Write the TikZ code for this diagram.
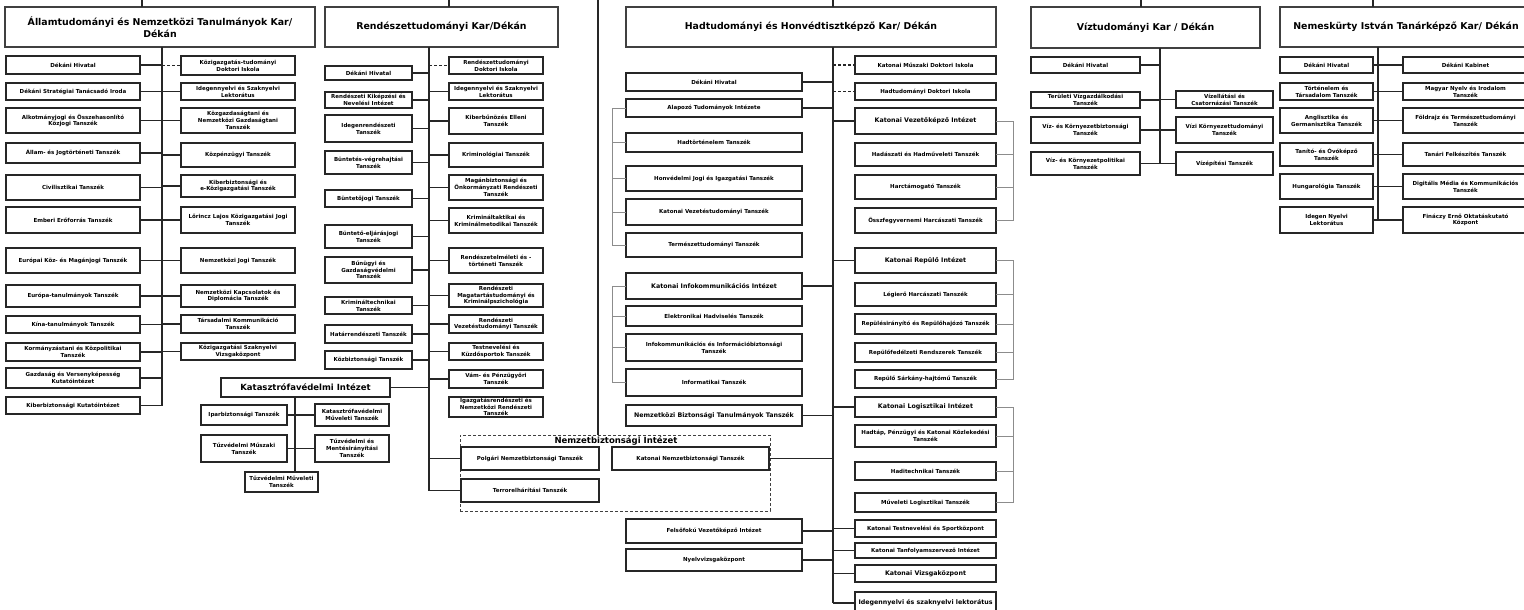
\documentclass[tikz,border=0pt]{standalone}
\usepackage{fontspec}
\setmainfont{DejaVu Sans}
\newcommand\fsS{\fontsize{5.5}{6.7}\selectfont\bfseries}
\newcommand\fsM{\fontsize{6.3}{7.5}\selectfont\bfseries}
\newcommand\fsH{\fontsize{9.4}{11.6}\selectfont\bfseries}
\newcommand\fsK{\fontsize{8.5}{9.6}\selectfont\bfseries}
\tikzset{
  bx/.style={draw=black!85,line width=1.25pt,fill=white,inner sep=1pt,outer sep=0pt,align=center,font=\fsS,rectangle},
  hdr/.style={bx,draw=black!75,line width=1.3pt,font=\fsH},
  mid/.style={font=\fsM},
  conn/.style={draw=black!85,line width=1.1pt},
  dconn/.style={conn,dashed,dash pattern=on 3pt off 2pt},
  brk/.style={draw=black!45,line width=0.6pt},
}
\newcommand\Bx[7][]{%
 \pgfmathsetmacro\bw{#5-#3}%
 \pgfmathsetmacro\bh{#6-#4}%
 \pgfmathsetmacro\bcx{(#3+#5)/2}%
 \pgfmathsetmacro\bcy{(#4+#6)/2}%
 \node[bx,minimum width=\bw pt,minimum height=\bh pt,#1] (#2) at (\bcx,\bcy) {#7};}
\newcommand\cl[2]{\draw[conn] (#1.east) -- (#1.east -| #2);}
\newcommand\cre[2]{\draw[conn] (#2 |- #1.west) -- (#1.west);}
\newcommand\dre[2]{\draw[dconn] (#2 |- #1.west) -- (#1.west);}
\begin{document}
\begin{tikzpicture}[x=1pt,y=-1pt]
\useasboundingbox (0,0) rectangle (1524,610);
\fill[white] (0,0) rectangle (1524,610);
\clip (0,0) rectangle (1524,610);
% trunk coordinates
\coordinate (at) at (162,47);
\coordinate (rt) at (429,47);
\coordinate (ht) at (833,47);
\coordinate (vt) at (1160,48);
\coordinate (mt) at (1378,47);
\coordinate (kt) at (295,397);
\coordinate (lb) at (612,0);
\coordinate (rb) at (1013,0);
\coordinate (t1) at (142,0);
\coordinate (t2) at (449,0);
\coordinate (t3) at (598,0);
\coordinate (t4) at (833,0);
\coordinate (t5) at (1141,0);
\coordinate (t6) at (1373,0);

% ===== Államtudományi =====
\Bx[hdr]{ah}{5}{7}{315}{47}{Államtudományi és Nemzetközi Tanulmányok Kar/\\Dékán}
\Bx{a1}{6}{56}{140}{74}{Dékáni Hivatal}
\Bx{a2}{6}{83}{140}{100}{Dékáni Stratégiai Tanácsadó Iroda}
\Bx{a3}{6}{108}{140}{133}{Alkotmányjogi és Összehasonlító\\Közjogi Tanszék}
\Bx{a4}{6}{143}{140}{163}{Állam- és Jogtörténeti Tanszék}
\Bx{a5}{6}{175}{140}{200}{Civilisztikai Tanszék}
\Bx{a6}{6}{207}{140}{233}{Emberi Erőforrás Tanszék}
\Bx{a7}{6}{248}{140}{273}{Európai Köz- és Magánjogi Tanszék}
\Bx{a8}{6}{285}{140}{307}{Európa-tanulmányok Tanszék}
\Bx{a9}{6}{316}{140}{333}{Kína-tanulmányok Tanszék}
\Bx{a10}{6}{343}{140}{361}{Kormányzástani és Közpolitikai\\Tanszék}
\Bx{a11}{6}{368}{140}{388}{Gazdaság és Versenyképesség\\Kutatóintézet}
\Bx{a12}{6}{397}{140}{414}{Kiberbiztonsági Kutatóintézet}
\Bx{b1}{181}{56}{295}{75}{Közigazgatás-tudományi\\Doktori Iskola}
\Bx{b2}{181}{83}{295}{100}{Idegennyelvi és Szaknyelvi\\Lektorátus}
\Bx{b3}{181}{108}{295}{133}{Közgazdaságtani és\\Nemzetközi Gazdaságtani\\Tanszék}
\Bx{b4}{181}{143}{295}{167}{Közpénzügyi Tanszék}
\Bx{b5}{181}{175}{295}{197}{Kiberbiztonsági és\\e-Közigazgatási Tanszék}
\Bx{b6}{181}{207}{295}{233}{Lőrincz Lajos Közigazgatási Jogi\\Tanszék}
\Bx{b7}{181}{248}{295}{273}{Nemzetközi Jogi Tanszék}
\Bx{b8}{181}{285}{295}{307}{Nemzetközi Kapcsolatok és\\Diplomácia Tanszék}
\Bx{b9}{181}{315}{295}{333}{Társadalmi Kommunikáció\\Tanszék}
\Bx{b10}{181}{343}{295}{360}{Közigazgatási Szaknyelvi\\Vizsgaközpont}
\draw[conn] (t1) -- (t1 |- ah.north);
\draw[conn] (ah.south -| at) -- (at |- a12.east);
\foreach \n in {a1,a2,a3,a4,a5,a6,a7,a8,a9,a10,a11,a12} {\cl{\n}{at}}
\dre{b1}{at}
\foreach \n in {b2,b3,b4,b5,b6,b7,b8,b9,b10} {\cre{\n}{at}}

% ===== Rendészettudományi =====
\Bx[hdr]{rh}{325}{7}{558}{47}{Rendészettudományi Kar/Dékán}
\Bx{r1}{325}{66}{412}{80}{Dékáni Hivatal}
\Bx{r2}{325}{92}{412}{108}{Rendészeti Kiképzési és\\Nevelési Intézet}
\Bx{r3}{325}{115}{412}{142}{Idegenrendészeti\\Tanszék}
\Bx{r4}{325}{151}{412}{174}{Büntetés-végrehajtási\\Tanszék}
\Bx{r5}{325}{190}{412}{207}{Büntetőjogi Tanszék}
\Bx{r6}{325}{225}{412}{248}{Büntető-eljárásjogi\\Tanszék}
\Bx{r7}{325}{257}{412}{283}{Bűnügyi és\\Gazdaságvédelmi\\Tanszék}
\Bx{r8}{325}{297}{412}{314}{Krimináltechnikai\\Tanszék}
\Bx{r9}{325}{325}{412}{343}{Határrendészeti Tanszék}
\Bx{r10}{325}{351}{412}{369}{Közbiztonsági Tanszék}
\Bx{s1}{449}{57}{543}{74}{Rendészettudományi\\Doktori Iskola}
\Bx{s2}{449}{83}{543}{100}{Idegennyelvi és Szaknyelvi\\Lektorátus}
\Bx{s3}{449}{108}{543}{134}{Kiberbűnözés Elleni\\Tanszék}
\Bx{s4}{449}{143}{543}{167}{Kriminológiai Tanszék}
\Bx{s5}{449}{175}{543}{200}{Magánbiztonsági és\\Önkormányzati Rendészeti\\Tanszék}
\Bx{s6}{449}{208}{543}{233}{Krimináltaktikai és\\Kriminálmetodikai Tanszék}
\Bx{s7}{449}{248}{543}{273}{Rendészetelméleti és -\\történeti Tanszék}
\Bx{s8}{449}{284}{543}{307}{Rendészeti\\Magatartástudományi és\\Kriminálpszichológia}
\Bx{s9}{449}{315}{543}{333}{Rendészeti\\Vezetéstudományi Tanszék}
\Bx{s10}{449}{343}{543}{360}{Testnevelési és\\Küzdősportok Tanszék}
\Bx{s11}{449}{370}{543}{388}{Vám- és Pénzügyőri\\Tanszék}
\Bx{s12}{449}{397}{543}{417}{Igazgatásrendészeti és\\Nemzetközi Rendészeti\\Tanszék}

% ===== Katasztrófavédelmi =====
\Bx[font=\fsK]{k0}{221}{378}{390}{397}{Katasztrófavédelmi Intézet}
\Bx{k1}{201}{405}{287}{425}{Iparbiztonsági Tanszék}
\Bx{k2}{315}{404}{389}{426}{Katasztrófavédelmi\\Műveleti Tanszék}
\Bx{k3}{201}{435}{287}{462}{Tűzvédelmi Műszaki\\Tanszék}
\Bx{k4}{315}{435}{389}{462}{Tűzvédelmi és\\Mentésirányítási\\Tanszék}
\Bx{k5}{245}{472}{318}{492}{Tűzvédelmi Műveleti\\Tanszék}

% ===== Nemzetbiztonsági =====
\node[draw=black!75,line width=1pt,dashed,dash pattern=on 3pt off 2pt,minimum width=310pt,minimum height=76pt,inner sep=0pt] (nb) at (615,473) {};
\node[font=\fsK,inner sep=0pt] (nbt) at (616,441) {Nemzetbiztonsági Intézet};
\Bx{n1}{461}{447}{599}{470}{Polgári Nemzetbiztonsági Tanszék}
\Bx{n2}{461}{479}{599}{502}{Terrorelhárítási Tanszék}
\Bx{n3}{612}{447}{769}{470}{Katonai Nemzetbiztonsági Tanszék}

\draw[conn] (t2) -- (t2 |- rh.north);
\draw[conn] (t3) -- (t3 |- nb.north);
\draw[conn] (rh.south -| rt) -- (rt |- n2.west);
\foreach \n in {r1,r2,r3,r4,r5,r6,r7,r8,r9,r10,k0} {\cl{\n}{rt}}
\dre{s1}{rt}
\foreach \n in {s2,s3,s4,s5,s6,s7,s8,s9,s10,s11,n1,n2} {\cre{\n}{rt}}
\draw[conn] (k0.south -| kt) -- (kt |- k5.north);
\cl{k1}{kt}\cl{k3}{kt}\cre{k2}{kt}\cre{k4}{kt}

% ===== Hadtudományi =====
\Bx[hdr]{hh}{626}{7}{996}{47}{Hadtudományi és Honvédtisztképző Kar/ Dékán}
\Bx{h1}{626}{73}{802}{91}{Dékáni Hivatal}
\Bx{h2}{626}{99}{802}{117}{Alapozó Tudományok Intézete}
\Bx{h3}{626}{133}{802}{152}{Hadtörténelem Tanszék}
\Bx{h4}{626}{166}{802}{191}{Honvédelmi Jogi és Igazgatási Tanszék}
\Bx{h5}{626}{199}{802}{225}{Katonai Vezetéstudományi Tanszék}
\Bx{h6}{626}{233}{802}{257}{Természettudományi Tanszék}
\Bx[mid]{h7}{626}{273}{802}{299}{Katonai Infokommunikációs Intézet}
\Bx{h8}{626}{306}{802}{326}{Elektronikai Hadviselés Tanszék}
\Bx{h9}{626}{334}{802}{361}{Infokommunikációs és Információbiztonsági\\Tanszék}
\Bx{h10}{626}{369}{802}{396}{Informatikai Tanszék}
\Bx[mid]{h11}{626}{405}{802}{426}{Nemzetközi Biztonsági Tanulmányok Tanszék}
\Bx{h12}{626}{519}{802}{543}{Felsőfokú Vezetőképző Intézet}
\Bx{h13}{626}{549}{802}{571}{Nyelvvizsgaközpont}
\Bx{g1}{855}{56}{996}{74}{Katonai Műszaki Doktori Iskola}
\Bx{g2}{855}{83}{996}{100}{Hadtudományi Doktori Iskola}
\Bx[mid]{g3}{855}{108}{996}{134}{Katonai Vezetőképző Intézet}
\Bx{g4}{855}{143}{996}{166}{Hadászati és Hadműveleti Tanszék}
\Bx{g5}{855}{175}{996}{199}{Harctámogató Tanszék}
\Bx{g6}{855}{208}{996}{233}{Összfegyvernemi Harcászati Tanszék}
\Bx[mid]{g7}{855}{248}{996}{273}{Katonai Repülő Intézet}
\Bx{g8}{855}{283}{996}{306}{Légierő Harcászati Tanszék}
\Bx{g9}{855}{314}{996}{334}{Repülésirányító és Repülőhajózó Tanszék}
\Bx{g10}{855}{343}{996}{362}{Repülőfedélzeti Rendszerek Tanszék}
\Bx{g11}{855}{370}{996}{388}{Repülő Sárkány-hajtómű Tanszék}
\Bx[mid]{g12}{855}{397}{996}{417}{Katonai Logisztikai Intézet}
\Bx{g13}{855}{425}{996}{447}{Hadtáp, Pénzügyi és Katonai Közlekedési\\Tanszék}
\Bx{g14}{855}{462}{996}{480}{Haditechnikai Tanszék}
\Bx{g15}{855}{493}{996}{512}{Műveleti Logisztikai Tanszék}
\Bx{g16}{855}{520}{996}{537}{Katonai Testnevelési és Sportközpont}
\Bx{g17}{855}{543}{996}{558}{Katonai Tanfolyamszervező Intézet}
\Bx[mid]{g18}{855}{565}{996}{582}{Katonai Vizsgaközpont}
\Bx[mid]{g19}{855}{592}{996}{614}{Idegennyelvi és szaknyelvi lektorátus}
\draw[conn] (t4) -- (t4 |- hh.north);
\draw[conn] (hh.south -| ht) -- (ht |- g19.west);
\foreach \n in {h1,h2,h7,h11,n3,h12,h13} {\cl{\n}{ht}}
\dre{g1}{ht}\dre{g2}{ht}
\foreach \n in {g3,g7,g12,g16,g17,g18,g19} {\cre{\n}{ht}}
% gray brackets
\draw[brk] (h2.west) -- (h2.west -| lb) -- (h6.west -| lb) -- (h6.west);
\foreach \n in {h3,h4,h5} {\draw[brk] (\n.west) -- (\n.west -| lb);}
\draw[brk] (h7.west) -- (h7.west -| lb) -- (h10.west -| lb) -- (h10.west);
\foreach \n in {h8,h9} {\draw[brk] (\n.west) -- (\n.west -| lb);}
\draw[brk] (g3.east) -- (g3.east -| rb) -- (g6.east -| rb) -- (g6.east);
\foreach \n in {g4,g5} {\draw[brk] (\n.east) -- (\n.east -| rb);}
\draw[brk] (g7.east) -- (g7.east -| rb) -- (g11.east -| rb) -- (g11.east);
\foreach \n in {g8,g9,g10} {\draw[brk] (\n.east) -- (\n.east -| rb);}
\draw[brk] (g12.east) -- (g12.east -| rb) -- (g15.east -| rb) -- (g15.east);
\foreach \n in {g13,g14} {\draw[brk] (\n.east) -- (\n.east -| rb);}

% ===== Víztudományi =====
\Bx[hdr]{vh}{1031}{7}{1260}{48}{Víztudományi Kar / Dékán}
\Bx{v1}{1031}{57}{1140}{73}{Dékáni Hivatal}
\Bx{v2}{1031}{92}{1140}{108}{Területi Vízgazdálkodási\\Tanszék}
\Bx{v3}{1031}{117}{1140}{143}{Víz- és Környezetbiztonsági\\Tanszék}
\Bx{v4}{1031}{152}{1140}{175}{Víz- és Környezetpolitikai\\Tanszék}
\Bx{w1}{1176}{91}{1273}{108}{Vízellátási és\\Csatornázási Tanszék}
\Bx{w2}{1176}{117}{1273}{143}{Vízi Környezettudományi\\Tanszék}
\Bx{w3}{1176}{152}{1273}{175}{Vízépítési Tanszék}
\draw[conn] (t5) -- (t5 |- vh.north);
\draw[conn] (vh.south -| vt) -- (vt |- v4.east);
\foreach \n in {v1,v2,v3,v4} {\cl{\n}{vt}}
\foreach \n in {w1,w2,w3} {\cre{\n}{vt}}

% ===== Nemeskürty =====
\Bx[hdr]{mh}{1280}{7}{1532}{47}{Nemeskürty István Tanárképző Kar/ Dékán}
\Bx{m1}{1280}{57}{1373}{73}{Dékáni Hivatal}
\Bx{m2}{1280}{83}{1373}{100}{Történelem és\\Társadalom Tanszék}
\Bx{m3}{1280}{108}{1373}{133}{Anglisztika és\\Germanisztika Tanszék}
\Bx{m4}{1280}{143}{1373}{166}{Tanító- és Óvóképző\\Tanszék}
\Bx{m5}{1280}{174}{1373}{199}{Hungarológia Tanszék}
\Bx{m6}{1280}{207}{1373}{233}{Idegen Nyelvi\\Lektorátus}
\Bx{p1}{1403}{57}{1528}{73}{Dékáni Kabinet}
\Bx{p2}{1403}{83}{1528}{100}{Magyar Nyelv és Irodalom\\Tanszék}
\Bx{p3}{1403}{108}{1528}{133}{Földrajz és Természettudományi\\Tanszék}
\Bx{p4}{1403}{143}{1528}{166}{Tanári Felkészítés Tanszék}
\Bx{p5}{1403}{174}{1528}{199}{Digitális Média és Kommunikációs\\Tanszék}
\Bx{p6}{1403}{207}{1528}{233}{Fináczy Ernő Oktatáskutató\\Központ}
\draw[conn] (t6) -- (t6 |- mh.north);
\draw[conn] (mh.south -| mt) -- (mt |- m6.east);
\foreach \n in {m1,m2,m3,m4,m5,m6} {\cl{\n}{mt}}
\foreach \n in {p1,p2,p3,p4,p5,p6} {\cre{\n}{mt}}
\end{tikzpicture}
\end{document}
